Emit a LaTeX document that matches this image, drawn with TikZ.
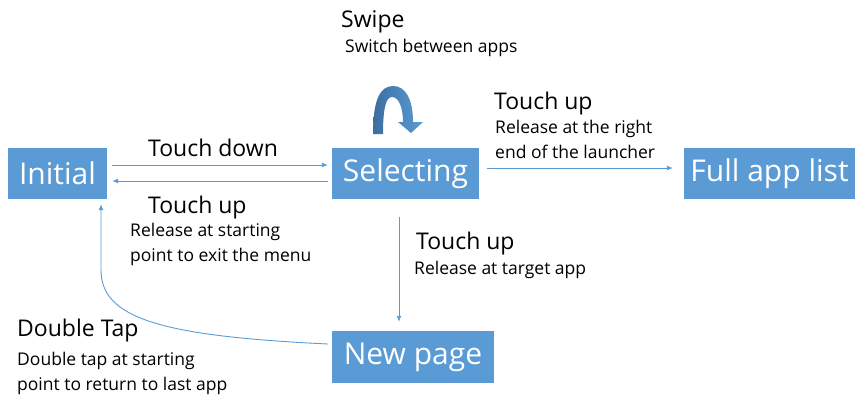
\documentclass[tikz,border=0pt]{standalone}
\usepackage{fontspec}
\setmainfont{Open Sans}
\usetikzlibrary{arrows.meta}
\definecolor{boxblue}{RGB}{91,155,213}
\definecolor{swipedark}{RGB}{60,110,160}
\begin{document}
\begin{tikzpicture}[x=1pt, y=-1pt,
  state/.style={fill=boxblue, text=white, inner sep=0pt, minimum height=51pt, font=\fontsize{30}{30}\selectfont},
  link/.style={draw=boxblue, line width=0.9pt, -{Latex[length=6pt,width=5pt]}},
  title/.style={anchor=west, inner sep=0pt, font=\fontsize{23}{23}\selectfont},
  note/.style={anchor=west, inner sep=0pt, align=left, font=\fontsize{17.5}{25}\selectfont}]
  \useasboundingbox (0,0) rectangle (861,399);
  % states
  \node[state, minimum width=99pt] (init) at (57.5,173.5) {Initial};
  \node[state, minimum width=147pt] (sel) at (405.5,173.5) {Selecting};
  \node[state, minimum width=171pt] (full) at (769.5,173.5) {Full app list};
  \node[state, minimum width=162pt, minimum height=52pt] (newp) at (413,357) {New page};
  % transitions
  \draw[link] ([shift={(5,-8.5)}]init.east) -- ([shift={(-4,-8.5)}]sel.west);
  \draw[link] ([shift={(-4,7.5)}]sel.west) -- ([shift={(5,7.5)}]init.east);
  \draw[link] ([shift={(8,-5.5)}]sel.east) -- ([shift={(-11,-5.5)}]full.west);
  \draw[link] ([shift={(-6.5,18)}]sel.south) -- ([shift={(-14,-9)}]newp.north);
  \draw[link] ([shift={(-4,-13)}]newp.west) .. controls (160,336) and (101,318) .. (101,270) -- ([shift={(43.5,5)}]init.south);
  % swipe loop
  \shade[left color=swipedark, right color=boxblue]
    (373,134) .. controls (373,100) and (380,86) .. (393,86)
    .. controls (406,86) and (413,100) .. (413,122) -- (423,122) -- (411,133) -- (398,122) -- (403,122)
    .. controls (403,108) and (399,97) .. (392,97)
    .. controls (386,97) and (383,108) .. (383,134) -- cycle;
  % labels
  \node[title] (swipe) at (341,22) {Swipe};
  \node[note] (swipetxt) at (345,48) {Switch between apps};
  \node[title] (down) at (148,148) {Touch down};
  \node[title] (upleft) at (148,208) {Touch up};
  \node[note, anchor=north west] (upleftxt) at (130,223) {Release at starting\\point to exit the menu};
  \node[title] (upright) at (494,104) {Touch up};
  \node[note, anchor=north west] (uprighttxt) at (495,120) {Release at the right\\end of the launcher};
  \node[title] (updown) at (416,244) {Touch up};
  \node[note] (updowntxt) at (414,270) {Release at target app};
  \node[title] (dtap) at (17,331) {Double Tap};
  \node[note, anchor=north west] (dtaptxt) at (17,352) {Double tap at starting\\point to return to last app};
\end{tikzpicture}
\end{document}
